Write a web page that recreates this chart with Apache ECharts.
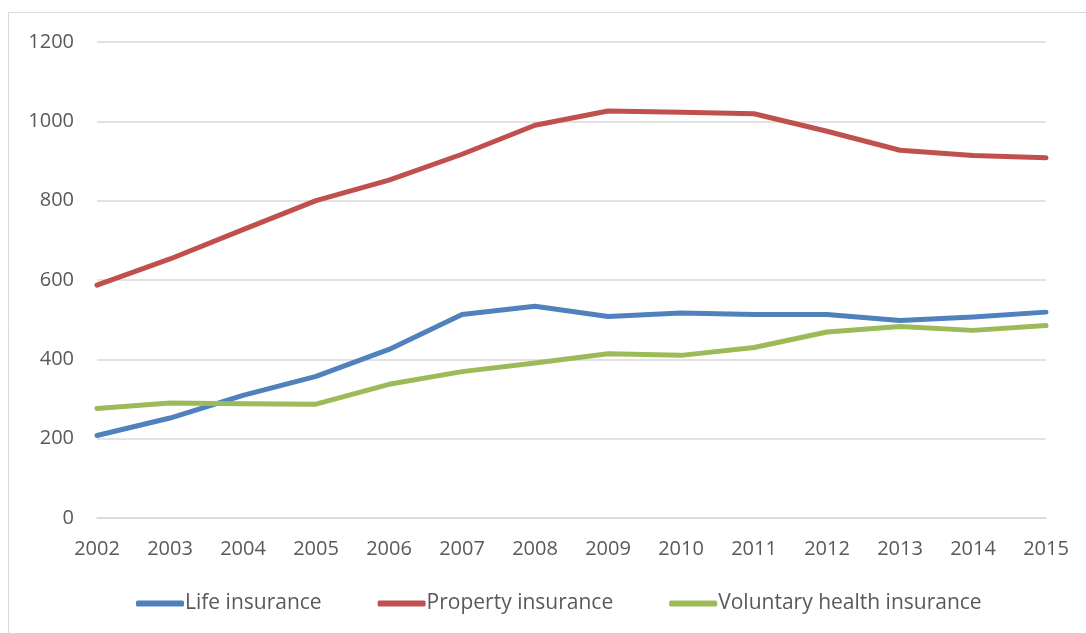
<!DOCTYPE html>
<html>
<head>
<meta charset="utf-8">
<script src="https://cdn.jsdelivr.net/npm/echarts@6/dist/echarts.min.js"></script>
<style>
html,body{margin:0;padding:0;background:#fff;}
#chart{width:1086px;height:633px;}
</style>
</head>
<body>
<div id="chart"></div>
<script>
const years = ['2002','2003','2004','2005','2006','2007','2008','2009','2010','2011','2012','2013','2014','2015'];
const lifeInsurance = [208, 252, 309, 357, 425, 513, 534, 508, 517, 513, 513, 498, 507, 519];
const propertyInsurance = [587, 653, 727, 800, 852, 917, 990, 1026, 1023, 1019, 975, 927, 914, 908];
const healthInsurance = [276, 290, 288, 287, 337, 369, 391, 414, 410, 430, 469, 483, 473, 485];
const seriesNames = ['Life insurance', 'Property insurance', 'Voluntary health insurance'];
const colors = ['#4f81bd', '#c0504d', '#9bbb59'];

const chart = echarts.init(document.getElementById('chart'));
const font = 'Open Sans, Liberation Sans, sans-serif';
function mk(name, data, color) {
  return {
    name: name, type: 'line', data: data, symbol: 'none',
    lineStyle: {width: 5, color: color, cap: 'round', join: 'round'},
    itemStyle: {color: color}
  };
}
chart.setOption({
  animation: false,
  graphic: [{
    type: 'rect', shape: {x: 8.5, y: 12.5, width: 1100, height: 640},
    style: {fill: 'none', stroke: '#d9d9d9', lineWidth: 1}, silent: true
  }],
  grid: {left: 97, right: 40, top: 42, bottom: 115, containLabel: false},
  legend: {
    top: 588, left: 131,
    icon: 'roundRect', itemWidth: 48, itemHeight: 6, itemGap: 56,
    textStyle: {color: '#595959', fontSize: 21, fontFamily: font, padding: [0,0,0,-4]},
    data: seriesNames
  },
  xAxis: {
    type: 'category', data: years, boundaryGap: false,
    axisLine: {show: true, lineStyle: {color: '#d9d9d9', width: 1.5}},
    axisTick: {show: false},
    axisLabel: {color: '#595959', fontSize: 20, fontFamily: font, margin: 21}
  },
  yAxis: {
    type: 'value', min: 0, max: 1200, interval: 200,
    axisLine: {show: false}, axisTick: {show: false},
    splitLine: {lineStyle: {color: '#d9d9d9', width: 1.5}},
    axisLabel: {color: '#595959', fontSize: 20, fontFamily: font, margin: 23,
      formatter: function (v) { return String(v); }}
  },
  series: [
    mk(seriesNames[0], lifeInsurance, colors[0]),
    mk(seriesNames[1], propertyInsurance, colors[1]),
    mk(seriesNames[2], healthInsurance, colors[2])
  ]
});
</script>
</body>
</html>
